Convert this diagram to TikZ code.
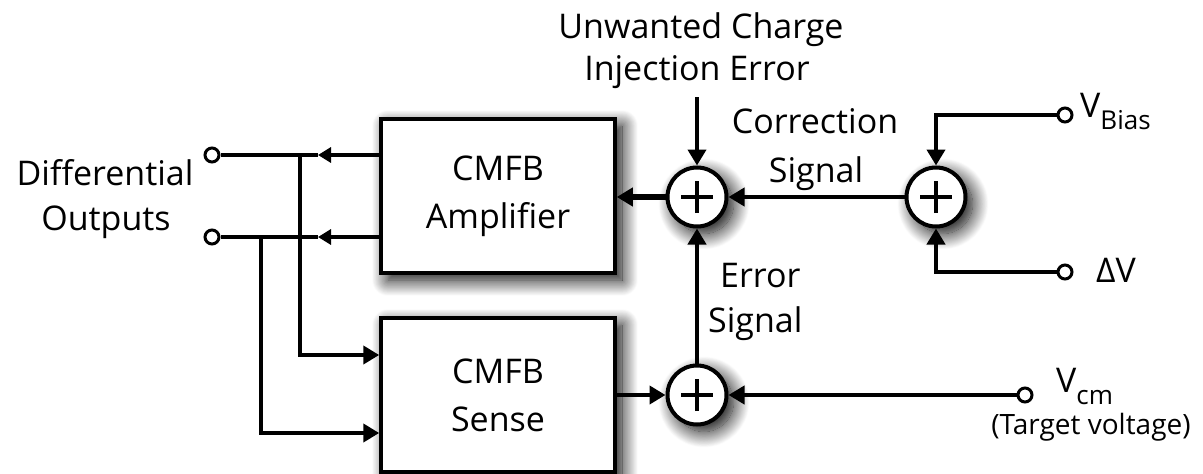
\documentclass[tikz,border=0pt]{standalone}
\usepackage{fontspec}
\setmainfont{Open Sans}
\usetikzlibrary{arrows.meta,shadows.blur}

\tikzset{
  wire/.style={line width=4.5pt},
  heavywire/.style={line width=6pt},
  tip/.style={-{Triangle[length=16pt,width=18pt]}},
  midtip/.style={-{Triangle[length=13pt,width=15pt]}},
  softshadow/.style={blur shadow={shadow xshift=7pt, shadow yshift=-7pt,
      shadow blur radius=16pt, shadow blur steps=20, shadow opacity=100}},
  block/.style={draw, line width=3.5pt, fill=white, minimum width=234pt,
      minimum height=154pt, align=center, inner sep=0pt,
      font=\fontsize{34}{48}\selectfont, softshadow},
  summer/.style={circle, draw, line width=4pt, fill=white, minimum size=59pt,
      inner sep=0pt, softshadow,
      path picture={
        \draw[line width=4pt]
          ([xshift=-16pt]path picture bounding box.center) --
          ([xshift=16pt]path picture bounding box.center)
          ([yshift=-16pt]path picture bounding box.center) --
          ([yshift=16pt]path picture bounding box.center);}},
  terminal/.style={circle, draw, line width=3pt, fill=white,
      minimum size=14pt, inner sep=0pt},
  label/.style={font=\fontsize{34}{40}\selectfont, inner sep=0pt},
  smalllabel/.style={font=\fontsize{28}{30}\selectfont, inner sep=0pt},
}

\newcommand{\subtxt}[1]{\raisebox{-12pt}{\fontsize{26}{26}\selectfont #1}}

\begin{document}
\begin{tikzpicture}[x=1pt,y=-1pt]
\useasboundingbox (0,0) rectangle (1203,474);

% blocks
\node[block] (amp)   at (498,196) {CMFB\\Amplifier};
\node[block] (sense) at (498,395) {CMFB\\Sense};

% summing junctions
\node[summer] (s1) at (697,197) {};
\node[summer] (s2) at (936,197) {};
\node[summer] (s3) at (697,395) {};

% terminals
\node[terminal] (t1)    at (212,155) {};
\node[terminal] (t2)    at (212,237) {};
\node[terminal] (tbias) at (1065,115) {};
\node[terminal] (tdv)   at (1065,272) {};
\node[terminal] (tcm)   at (1025,395) {};

% labels
\node[label, anchor=base] (lunw) at (701,38) {Unwanted Charge};
\node[label, anchor=base] (linj) at (697,80) {Injection Error};
\node[label, anchor=base] (lcor) at (815,133) {Correction};
\node[label, anchor=base] (lsg1) at (816,182) {Signal};
\node[label, anchor=base west] (lerr) at (720,287) {Error};
\node[label, anchor=base west] (lsg2) at (708,332) {Signal};
\node[label, anchor=base] (ldif) at (105,185) {Differential};
\node[label, anchor=base] (lout) at (106,230) {Outputs};
\node[label, anchor=base west] (lbias) at (1080,117) {V\subtxt{Bias}};
\node[label, anchor=base west] (ldv) at (1096,282) {ΔV};
\node[label, anchor=base west] (lcm) at (1056,392) {V\subtxt{cm}};
\node[smalllabel, anchor=base] (ltgt) at (1091,434) {(Target voltage)};

% injected error into the first junction
\coordinate (inj) at (697,97);
\draw[wire,tip] (inj) -- (s1.north);

% amplifier path
\draw[heavywire,tip] (s1.west) -- (amp.east |- s1.west);
\draw[wire,tip] (s2.west) -- (s1.east);
\draw[wire,tip] (s3.north) -- (s1.south);

% sense path
\draw[wire,tip] (sense.east |- s3.west) -- (s3.west);
\draw[wire,tip] (tcm.west) -- (s3.east);

% bias and offset inputs
\draw[wire,tip] (tbias.west) -| (s2.north);
\draw[wire,tip] (tdv.west) -| (s2.south);

% differential outputs
\coordinate (m1) at (318,155);
\coordinate (m2) at (318,237);
\draw[wire,midtip] (amp.west |- t1) -- (m1);
\draw[wire] (m1) -- (t1.east);
\draw[wire,midtip] (amp.west |- t2) -- (m2);
\draw[wire] (m2) -- (t2.east);

% feedback taps into the sense block
\coordinate (j1) at (300,155);
\coordinate (j2) at (261,237);
\path (sense.west) ++(0,-40) coordinate (in1);
\path (sense.west) ++(0,38) coordinate (in2);
\draw[wire,tip] (j1) |- (in1);
\draw[wire,tip] (j2) |- (in2);
\end{tikzpicture}
\end{document}
